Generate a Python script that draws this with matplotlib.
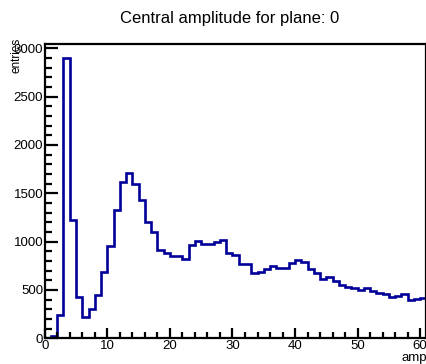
import matplotlib
matplotlib.use("Agg")
import matplotlib.pyplot as plt
import numpy as np
from matplotlib.ticker import MultipleLocator

plt.rcParams['font.family'] = ['Liberation Sans', 'DejaVu Sans']

# histogram: 61 bins of width 1 on [0, 61]
bin_edges = np.arange(0, 62, 1)
counts = [0, 25, 240, 2900, 1220, 430, 220, 300, 450, 690,
          960, 1330, 1620, 1715, 1595, 1430, 1200, 1105, 910, 880,
          850, 850, 820, 965, 1005, 975, 975, 1000, 1016, 885,
          860, 765, 765, 680, 688, 713, 745, 727, 727, 775,
          812, 785, 713, 672, 612, 637, 596, 551, 534, 517,
          500, 520, 492, 468, 461, 430, 441, 455, 393, 409, 417]

title = "Central amplitude for plane: 0"
xlabel = "amp"
ylabel = "entries"

fig = plt.figure(figsize=(4.27, 3.64), dpi=100)
ax = fig.add_axes([44.7 / 427, 1 - 338.3 / 364, (426.5 - 44.7) / 427, (338.3 - 44) / 364])

ax.stairs(counts, bin_edges, color='#000099', linewidth=1.9)

ax.set_xlim(0, 61)
ax.set_ylim(0, 1.05 * max(counts))

for s in ax.spines.values():
    s.set_linewidth(1.6)

ax.xaxis.set_major_locator(MultipleLocator(10))
ax.xaxis.set_minor_locator(MultipleLocator(2))
ax.yaxis.set_major_locator(MultipleLocator(500))
ax.yaxis.set_minor_locator(MultipleLocator(100))
ax.tick_params(which='both', direction='in', top=False, right=False, width=1.6,
               labelsize=9.5)
ax.tick_params(axis='y', which='major', length=9, pad=1)
ax.tick_params(axis='y', which='minor', length=5)
ax.tick_params(axis='x', which='major', length=7, pad=1)
ax.tick_params(axis='x', which='minor', length=4)

fig.text(230 / 427, 1 - 18 / 364, title, ha='center', va='center', fontsize=12)
fig.text(17 / 427, 1 - 38 / 364, ylabel, rotation=90, ha='center', va='top', fontsize=8.5)
fig.text(427 / 427, 1 - 358 / 364, xlabel, ha='right', va='center', fontsize=9.5)

fig.savefig("out.png", dpi=100)
